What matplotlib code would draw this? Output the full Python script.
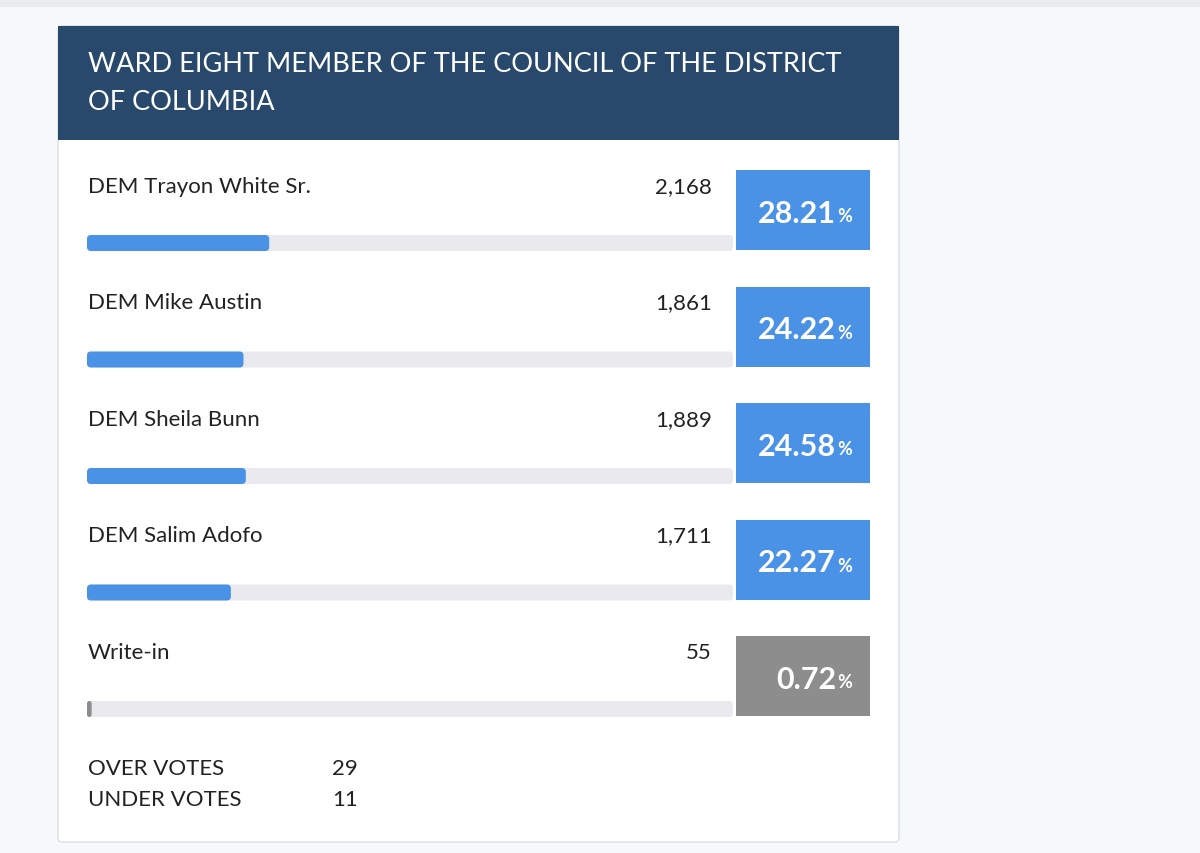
import matplotlib.pyplot as plt
from matplotlib.patches import FancyBboxPatch, Rectangle

title_lines = ["WARD EIGHT MEMBER OF THE COUNCIL OF THE DISTRICT", "OF COLUMBIA"]
candidates = ["DEM Trayon White Sr.", "DEM Mike Austin", "DEM Sheila Bunn", "DEM Salim Adofo", "Write-in"]
votes = [2168, 1861, 1889, 1711, 55]
percents = [28.21, 24.22, 24.58, 22.27, 0.72]
box_colors = ["#4a92e6", "#4a92e6", "#4a92e6", "#4a92e6", "#8e8d8e"]
extra_labels = ["OVER VOTES", "UNDER VOTES"]
extra_values = [29, 11]

plt.rcParams["font.family"] = "Lato"
fig = plt.figure(figsize=(12, 8.54), dpi=100)
fig.patch.set_facecolor("#f6f9fa")
ax = fig.add_axes([0, 0, 1, 1])
ax.set_xlim(0, 1200)
ax.set_ylim(854, 0)
ax.axis("off")

# top shadow strip
ax.add_patch(Rectangle((0, 0), 1200, 8, color="#e9ecee", lw=0))

# card
ax.add_patch(FancyBboxPatch((58, 27), 841, 816, boxstyle="round,pad=0,rounding_size=4",
                            fc="white", ec="#dcdfe2", lw=1))
ax.add_patch(Rectangle((58, 27), 841, 114, color="#28496b", lw=0))
for i, line in enumerate(title_lines):
    ax.text(88, 64 + i * 38, line, color="white", fontsize=19.5, va="center", ha="left")

track_x0, track_x1 = 87, 733
step = 116.5
for i, (name, v, p, c) in enumerate(zip(candidates, votes, percents, box_colors)):
    y0 = 171 + i * step
    ax.text(88, y0 + 16, name, fontsize=16, color="#222222", va="center")
    ax.text(712, y0 + 16, f"{v:,}", fontsize=16, color="#222222", va="center", ha="right")
    ax.add_patch(Rectangle((736, y0), 134, 80, color=c, lw=0))
    ax.text(836, y0 + 43, f"{p:.2f}", fontsize=22, fontweight="bold", color="white",
            va="center", ha="right")
    ax.text(837, y0 + 46, "%", fontsize=13, fontweight="bold", color="white",
            va="center", ha="left")
    ax.add_patch(FancyBboxPatch((track_x0, y0 + 65), track_x1 - track_x0, 16,
                                boxstyle="round,pad=0,rounding_size=4", fc="#e9e9ee", lw=0))
    w = max((track_x1 - track_x0) * p / 100, 3)
    ax.add_patch(FancyBboxPatch((track_x0, y0 + 65), w, 16,
                                boxstyle="round,pad=0,rounding_size=min(4,w/2)".replace("min(4,w/2)", str(min(4, w / 2))),
                                fc=c, lw=0))

for i, (lab, v) in enumerate(zip(extra_labels, extra_values)):
    ax.text(88, 769 + i * 31, lab, fontsize=16, color="#222222", va="center")
    ax.text(358, 769 + i * 31, str(v), fontsize=16, color="#222222", va="center", ha="right")

fig.savefig("out.png", dpi=100, facecolor=fig.get_facecolor())
